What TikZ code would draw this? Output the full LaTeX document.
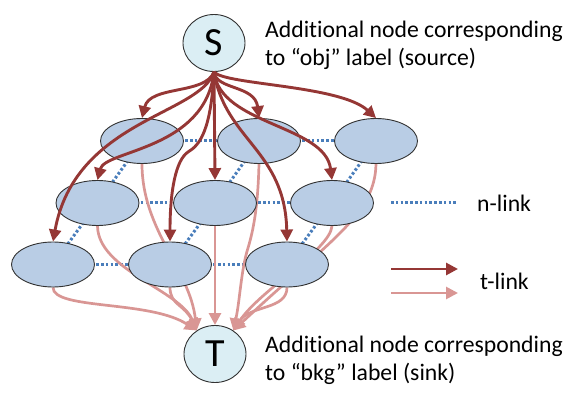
\documentclass[tikz,border=0pt]{standalone}
\usepackage{fontspec}
\setmainfont[Ligatures=NoCommon]{Carlito}
\usetikzlibrary{arrows.meta,shapes.geometric}
\pgfdeclarelayer{bg}
\pgfsetlayers{bg,main}
\definecolor{ellfill}{HTML}{B9CDE5}
\definecolor{stfill}{HTML}{DBEEF4}
\definecolor{darkred}{HTML}{953735}
\definecolor{pinkc}{HTML}{D99694}
\definecolor{nblue}{HTML}{4A7EBB}
\begin{document}
\begin{tikzpicture}[x=1pt,y=-1pt,
  pix/.style={ellipse,draw=black!80,line width=0.9pt,fill=ellfill,minimum width=83pt,minimum height=45pt,inner sep=0pt},
  term/.style={ellipse,draw=black!80,line width=0.9pt,fill=stfill,minimum width=62pt,minimum height=57pt,inner sep=0pt,font=\fontsize{40}{44}\selectfont},
  tlinkS/.style={draw=darkred,line width=2.9pt,-{Triangle[length=12pt,width=12pt]}},
  tlinkT/.style={draw=pinkc,line width=2.7pt,-{Triangle[length=12pt,width=12pt]}},
  nlink/.style={draw=nblue,line width=3pt,dash pattern=on 2.6pt off 2.2pt},
  lbl/.style={font=\fontsize{23.7}{28}\selectfont,align=left,inner sep=0pt}]
\useasboundingbox (0,0) rectangle (581,403);

% nodes
\node[term] (S) at (214,43) {S};
\node[term] (T) at (215,354) {T};
\node[pix] (a1) at (142,141) {};
\node[pix] (a2) at (259,141) {};
\node[pix] (a3) at (376,141) {};
\node[pix] (b1) at (97.5,203) {};
\node[pix] (b2) at (215,203) {};
\node[pix] (b3) at (332,203) {};
\node[pix] (c1) at (53,264.5) {};
\node[pix] (c2) at (170,264.5) {};
\node[pix] (c3) at (287,264.5) {};

% n-links (behind)
\begin{pgfonlayer}{bg}
\foreach \u/\v in {a1/a2,a2/a3,b1/b2,b2/b3,c1/c2,c2/c3,a1/b1,a2/b2,a3/b3,b1/c1,b2/c2,b3/c3}
  \draw[nlink] (\u.center) -- (\v.center);
% t-links to sink (behind)
\draw[tlinkT] (a1.south) .. controls (142,230) and (190,270) .. (T.128);
\draw[tlinkT] (b1.south) .. controls (98,270) and (180,290) .. (T.128);
\draw[tlinkT] (c1.south) .. controls (53,310) and (150,300) .. (T.128);
\draw[tlinkT] (c2.south) .. controls (170,305) and (185,305) .. (T.128);
\draw[tlinkT] (b2.south) -- (T.north);
\draw[tlinkT] (a2.south) .. controls (258,200) and (255,225) .. (248,248) .. controls (241,270) and (240,300) .. (T.52);
\draw[tlinkT] (a3.south) .. controls (375,215) and (330,240) .. (T.52);
\draw[tlinkT] (b3.south) .. controls (330,250) and (260,290) .. (T.52);
\draw[tlinkT] (c3.south) .. controls (287,310) and (250,305) .. (T.52);
\end{pgfonlayer}

% t-links from source (on top)
\draw[tlinkS] (S.south) .. controls (205,95) and (150,85) .. (a1.north);
\draw[tlinkS] (S.south) .. controls (216,90) and (255,85) .. (a2.north);
\draw[tlinkS] (S.south) .. controls (225,85) and (340,85) .. (a3.north);
\draw[tlinkS] (S.south) .. controls (205,150) and (105,150) .. (b1.north);
\draw[tlinkS] (S.south) -- (b2.north);
\draw[tlinkS] (S.south) .. controls (220,125) and (325,125) .. (b3.north);
\draw[tlinkS] (S.south) .. controls (200,115) and (75,120) .. (c1.north);
\draw[tlinkS] (S.south) .. controls (211,130) and (200,145) .. (188,152) .. controls (176,160) and (170,190) .. (c2.north);
\draw[tlinkS] (S.south) .. controls (225,140) and (285,150) .. (c3.north);

% texts
\node[lbl,anchor=base west] (txtS) at (265,66) {Additional node corresponding\\to “obj” label (source)};
\node[lbl,anchor=base west] (txtT) at (265,380) {Additional node corresponding\\to “bkg” label (sink)};

% legend
\coordinate (n1) at (391,203);
\coordinate (n2) at (456,203);
\draw[nlink] (n1) -- (n2);
\node[lbl,anchor=base west] (nl) at (477,212) {n-link};
\coordinate (d1) at (391,269);
\coordinate (d2) at (458,269);
\draw[tlinkS] (d1) -- (d2);
\coordinate (p1) at (391,293);
\coordinate (p2) at (458,293);
\draw[tlinkT] (p1) -- (p2);
\node[lbl,anchor=base west] (tl) at (480,290) {t-link};
\end{tikzpicture}
\end{document}
